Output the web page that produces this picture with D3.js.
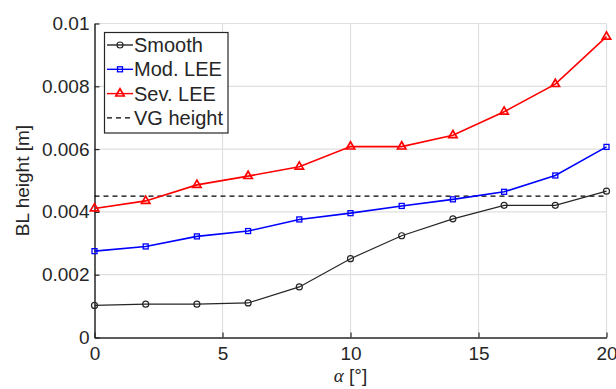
<!DOCTYPE html>
<html>
<head>
<meta charset="utf-8">
<script src="https://cdn.jsdelivr.net/npm/d3@7"></script>
<style>
  body { margin: 0; background: #fff; }
  svg text { font-family: "Liberation Sans", Helvetica, Arial, sans-serif; fill: #262626; }
</style>
</head>
<body>
<div id="chart"></div>
<script>
const alpha = [0, 2, 4, 6, 8, 10, 12, 14, 16, 18, 20];
const smooth = [0.00102, 0.00106, 0.00106, 0.00110, 0.00161, 0.00251, 0.00324, 0.00378, 0.00421, 0.00421, 0.00466];
const modLee = [0.00275, 0.00290, 0.00322, 0.00339, 0.00376, 0.00396, 0.00419, 0.00440, 0.00464, 0.00516, 0.00607];
const sevLee = [0.00411, 0.00435, 0.00486, 0.00514, 0.00544, 0.00608, 0.00608, 0.00644, 0.00719, 0.00807, 0.00958];
const vgHeight = 0.0045;
const xTicks = [0, 5, 10, 15, 20];
const yTicks = [0, 0.002, 0.004, 0.006, 0.008, 0.01];
const yTickLabels = ['0', '0.002', '0.004', '0.006', '0.008', '0.01'];

const W = 616, H = 389;
const plot = { left: 94.5, right: 606.5, top: 23.5, bottom: 337.5 };

const svg = d3.select('#chart').append('svg')
  .attr('width', W)
  .attr('height', H);

const x = d3.scaleLinear().domain([0, 20]).range([plot.left, plot.right]);
const y = d3.scaleLinear().domain([0, 0.01]).range([plot.bottom, plot.top]);

// grid
svg.append('g')
  .selectAll('line')
  .data(xTicks.slice(1))
  .join('line')
    .attr('x1', d => x(d)).attr('x2', d => x(d))
    .attr('y1', plot.top).attr('y2', plot.bottom)
    .attr('stroke', '#dfdfdf').attr('stroke-width', 1.2);

svg.append('g')
  .selectAll('line')
  .data(yTicks.slice(1))
  .join('line')
    .attr('x1', plot.left).attr('x2', plot.right)
    .attr('y1', d => y(d)).attr('y2', d => y(d))
    .attr('stroke', '#dfdfdf').attr('stroke-width', 1.2);

// axes with inward ticks
const xAxis = svg.append('g')
  .attr('transform', `translate(0,${plot.bottom})`)
  .call(d3.axisBottom(x).tickValues(xTicks).tickSize(-5).tickPadding(9).tickSizeOuter(0));

const yAxis = svg.append('g')
  .attr('transform', `translate(${plot.left},0)`)
  .call(d3.axisLeft(y).tickValues(yTicks).tickFormat((d, i) => yTickLabels[i]).tickSize(-5).tickPadding(5).tickSizeOuter(0));

[xAxis, yAxis].forEach(a => {
  a.select('.domain').attr('stroke', '#262626').attr('stroke-width', 1.5);
  a.selectAll('.tick line').attr('stroke', '#262626').attr('stroke-width', 1.2);
  a.selectAll('.tick text').attr('font-size', 19).attr('font-family', null).attr('fill', '#262626');
});

// VG height dashed
svg.append('line')
  .attr('x1', x(0)).attr('x2', x(20))
  .attr('y1', y(vgHeight)).attr('y2', y(vgHeight))
  .attr('stroke', '#000').attr('stroke-width', 1.3)
  .attr('stroke-dasharray', '5,4');

const line = d3.line().x((d, i) => x(alpha[i])).y(d => y(d));

const series = [
  { name: 'Smooth', values: smooth, color: '#262626', marker: 'circle' },
  { name: 'Mod. LEE', values: modLee, color: '#0000ff', marker: 'square' },
  { name: 'Sev. LEE', values: sevLee, color: '#ff0000', marker: 'triangle' }
];

const drawMarker = (g, type, cx, cy, color) => {
  if (type === 'circle') {
    g.append('circle').attr('cx', cx).attr('cy', cy).attr('r', 3)
      .attr('fill', 'none').attr('stroke', color).attr('stroke-width', 1.2);
  } else if (type === 'square') {
    g.append('rect').attr('x', cx - 2.5).attr('y', cy - 2.5).attr('width', 5).attr('height', 5)
      .attr('fill', 'none').attr('stroke', color).attr('stroke-width', 1.3);
  } else {
    g.append('path')
      .attr('d', d3.symbol(d3.symbolTriangle, 30)())
      .attr('transform', `translate(${cx},${cy})`)
      .attr('fill', 'none').attr('stroke', color).attr('stroke-width', 1.7);
  }
};

series.forEach(s => {
  svg.append('path')
    .attr('d', line(s.values))
    .attr('fill', 'none')
    .attr('stroke', s.color)
    .attr('stroke-width', s.marker === 'circle' ? 1.2 : 1.6);
  const g = svg.append('g');
  s.values.forEach((v, i) => drawMarker(g, s.marker, x(alpha[i]), y(v), s.color));
});

// legend
const lg = svg.append('g');
lg.append('rect')
  .attr('x', 104.5).attr('y', 32.5).attr('width', 123.5).attr('height', 100.5)
  .attr('fill', '#fff').attr('stroke', '#262626').attr('stroke-width', 1.2);

const legendItems = [...series, { name: 'VG height', color: '#000', dashed: true }];
legendItems.forEach((s, i) => {
  const cy = 45 + i * 24.3;
  lg.append('line')
    .attr('x1', 107).attr('x2', 133).attr('y1', cy).attr('y2', cy)
    .attr('stroke', s.color).attr('stroke-width', s.dashed ? 1.3 : 1.4)
    .attr('stroke-dasharray', s.dashed ? '5,4' : null);
  if (s.marker) drawMarker(lg, s.marker, 120, cy, s.color);
  lg.append('text')
    .attr('x', 134).attr('y', cy + 7)
    .attr('font-size', 20)
    .text(s.name);
});

// axis labels
svg.append('text')
  .attr('transform', `translate(29,${(plot.top + plot.bottom) / 2}) rotate(-90)`)
  .attr('text-anchor', 'middle')
  .attr('font-size', 19)
  .text('BL height [m]');

const xl = svg.append('text')
  .attr('x', (plot.left + plot.right) / 2)
  .attr('y', 382)
  .attr('text-anchor', 'middle')
  .attr('font-size', 19);
xl.append('tspan').attr('font-family', '"Liberation Serif", "DejaVu Serif", serif').attr('font-style', 'italic').text('α');
xl.append('tspan').text(' [°]');
</script>
</body>
</html>
